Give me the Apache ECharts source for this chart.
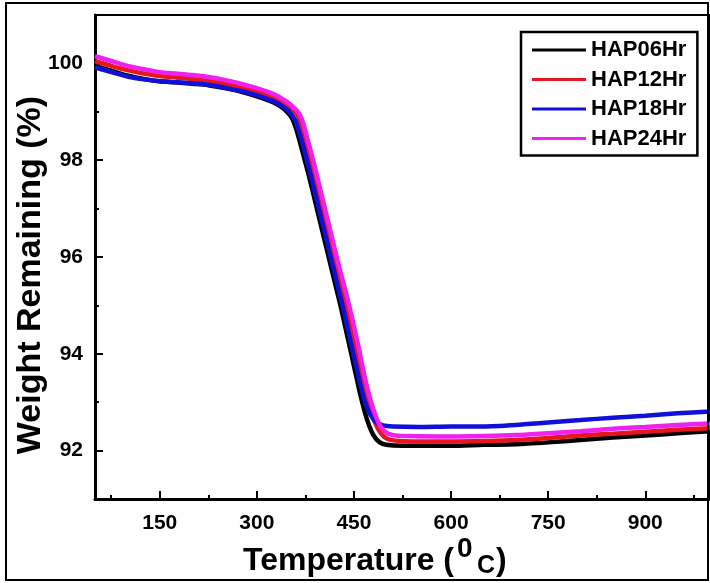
<!DOCTYPE html>
<html>
<head>
<meta charset="utf-8">
<script src="https://cdn.jsdelivr.net/npm/echarts@6/dist/echarts.min.js"></script>
<style>
html,body{margin:0;padding:0;background:#fff;}
#chart{width:710px;height:583px;}
</style>
</head>
<body>
<div id="chart"></div>
<script>
var seriesNames = ['HAP06Hr', 'HAP12Hr', 'HAP18Hr', 'HAP24Hr'];
var seriesColors = ['#000000', '#e5161e', '#1010d8', '#f020f0'];

var hap06 = [[50,99.95],[75,99.85],[100,99.75],[125,99.68],[150,99.63],[175,99.61],[200,99.58],[225,99.55],[250,99.49],[275,99.42],[300,99.32],[325,99.20],[340,99.08],[350,98.95],[355,98.85],[360,98.68],[365,98.45],[370,98.2],[380,97.7],[390,97.15],[400,96.6],[410,96.05],[420,95.5],[430,94.95],[440,94.35],[450,93.75],[460,93.15],[470,92.65],[480,92.32],[490,92.17],[500,92.12],[525,92.10],[550,92.10],[600,92.10],[650,92.12],[700,92.13],[750,92.17],[800,92.22],[850,92.27],[900,92.31],[950,92.36],[1000,92.40]];

var hap12 = [[50,100.05],[75,99.95],[100,99.86],[125,99.79],[150,99.74],[175,99.71],[200,99.68],[225,99.64],[250,99.58],[275,99.51],[300,99.42],[325,99.30],[345,99.15],[355,99.05],[362,98.95],[367,98.8],[372,98.55],[377,98.3],[382,98.05],[392,97.5],[402,96.95],[412,96.4],[422,95.85],[432,95.3],[442,94.75],[452,94.15],[462,93.55],[472,93.0],[482,92.6],[492,92.35],[502,92.24],[520,92.20],[550,92.19],[600,92.19],[650,92.20],[700,92.22],[750,92.26],[800,92.31],[850,92.35],[900,92.39],[950,92.43],[1000,92.46]];

var hap18 = [[50,99.92],[75,99.82],[100,99.73],[125,99.67],[150,99.63],[175,99.61],[200,99.59],[225,99.56],[250,99.50],[275,99.43],[300,99.34],[325,99.22],[340,99.11],[350,99.00],[355,98.92],[360,98.80],[365,98.60],[370,98.38],[375,98.12],[385,97.6],[395,97.05],[405,96.5],[415,95.95],[425,95.4],[435,94.85],[445,94.25],[455,93.65],[465,93.1],[475,92.75],[485,92.58],[495,92.52],[510,92.50],[550,92.49],[600,92.50],[650,92.50],[700,92.53],[750,92.58],[800,92.63],[850,92.68],[900,92.72],[950,92.77],[1000,92.81]];

var hap24 = [[50,100.15],[75,100.05],[100,99.95],[125,99.88],[150,99.82],[175,99.79],[200,99.76],[225,99.72],[250,99.66],[275,99.58],[300,99.49],[325,99.37],[345,99.22],[360,99.05],[367,98.92],[372,98.75],[377,98.5],[382,98.25],[387,98.0],[397,97.45],[407,96.9],[417,96.35],[427,95.8],[437,95.3],[447,94.75],[457,94.15],[467,93.5],[477,92.98],[487,92.6],[497,92.4],[510,92.32],[530,92.30],[600,92.29],[650,92.30],[700,92.32],[750,92.36],[800,92.40],[850,92.45],[900,92.49],[950,92.53],[1000,92.56]];

var xMajorTicks = [150, 300, 450, 600, 750, 900];
var xMinorTicks = [75, 225, 375, 525, 675, 825, 975];
var yMajorTicks = [92, 94, 96, 98, 100];
var yMinorTicks = [93, 95, 97, 99];

var allData = [hap06, hap12, hap18, hap24];
var FONT = 'Liberation Sans, Arial, sans-serif';

var chart = echarts.init(document.getElementById('chart'), null, {renderer: 'canvas'});

var series = seriesNames.map(function (n, i) {
  return {
    name: n, type: 'line', data: allData[i], xAxisIndex: 0, yAxisIndex: 0,
    showSymbol: false, symbol: 'none', smooth: 0.25,
    lineStyle: {color: seriesColors[i], width: 4.5},
    itemStyle: {color: seriesColors[i]},
    z: 2 + i
  };
});

chart.setOption({
  animation: false,
  backgroundColor: '#ffffff',
  grid: {left: 95, top: 15, width: 617, height: 484, show: true, borderColor: '#000', borderWidth: 2, backgroundColor: 'transparent'},
  legend: {
    data: seriesNames, orient: 'vertical', left: 521, top: 32,
    icon: 'rect', itemWidth: 54, itemHeight: 3, itemGap: 7.5,
    padding: [7, 11, 6, 11],
    borderColor: '#000', borderWidth: 2.5,
    textStyle: {fontFamily: FONT, fontWeight: 'bold', fontSize: 22, color: '#000', lineHeight: 22}
  },
  xAxis: [
    {type: 'value', min: 50, max: 1000, position: 'bottom',
     axisLine: {show: true, onZero: false, lineStyle: {color: '#000', width: 3}},
     axisTick: {show: true, inside: true, length: 8, lineStyle: {color: '#000', width: 2}, customValues: xMajorTicks},
     axisLabel: {show: true, margin: 14, fontFamily: FONT, fontWeight: 'bold', fontSize: 21, color: '#000', customValues: xMajorTicks},
     splitLine: {show: false}},
    {type: 'value', min: 50, max: 1000, position: 'bottom',
     axisLine: {show: false},
     axisTick: {show: true, inside: true, length: 4, lineStyle: {color: '#000', width: 2}, customValues: xMinorTicks},
     axisLabel: {show: false},
     splitLine: {show: false}}
  ],
  yAxis: [
    {type: 'value', min: 91, max: 101, position: 'left',
     axisLine: {show: true, onZero: false, lineStyle: {color: '#000', width: 3}},
     axisTick: {show: true, inside: true, length: 8, lineStyle: {color: '#000', width: 2}, customValues: yMajorTicks},
     axisLabel: {show: true, margin: 12, fontFamily: FONT, fontWeight: 'bold', fontSize: 21, color: '#000', customValues: yMajorTicks},
     splitLine: {show: false}},
    {type: 'value', min: 91, max: 101, position: 'left',
     axisLine: {show: false},
     axisTick: {show: true, inside: true, length: 4, lineStyle: {color: '#000', width: 2}, customValues: yMinorTicks},
     axisLabel: {show: false},
     splitLine: {show: false}}
  ],
  graphic: [
    {type: 'rect', shape: {x: 6, y: 3, width: 702, height: 577}, style: {fill: 'none', stroke: '#000', lineWidth: 2}, silent: true, z: 100},
    {type: 'text', x: 31, y: 275, rotation: Math.PI / 2,
     style: {text: 'Weight Remaining (%)', fontFamily: FONT, fontWeight: 'bold', fontSize: 34, fill: '#000', textAlign: 'center', textVerticalAlign: 'middle'}},
    {type: 'text', x: 243, y: 561,
     style: {text: 'Temperature (', fontFamily: FONT, fontWeight: 'bold', fontSize: 32, fill: '#000', textAlign: 'left', textVerticalAlign: 'middle'}},
    {type: 'text', x: 457, y: 549,
     style: {text: '0', fontFamily: FONT, fontWeight: 'bold', fontSize: 28, fill: '#000', textAlign: 'left', textVerticalAlign: 'middle'}},
    {type: 'text', x: 477, y: 566,
     style: {text: 'C', fontFamily: FONT, fontWeight: 'bold', fontSize: 25, fill: '#000', textAlign: 'left', textVerticalAlign: 'middle'}},
    {type: 'text', x: 496, y: 561,
     style: {text: ')', fontFamily: FONT, fontWeight: 'bold', fontSize: 32, fill: '#000', textAlign: 'left', textVerticalAlign: 'middle'}}
  ],
  series: series
});
</script>
</body>
</html>
